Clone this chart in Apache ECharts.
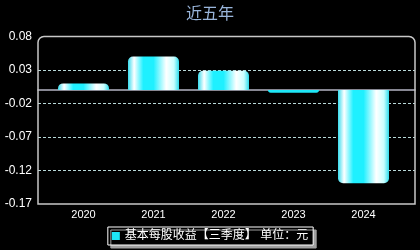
<!DOCTYPE html>
<html>
<head>
<meta charset="utf-8">
<script src="https://cdn.jsdelivr.net/npm/echarts@6/dist/echarts.min.js"></script>
<style>
  html, body { margin: 0; padding: 0; background: #000; }
  #chart { width: 420px; height: 250px; }
</style>
</head>
<body>
<div id="chart"></div>
<script>
// Basic EPS (Q3 cumulative), last five years
const years = ['2020', '2021', '2022', '2023', '2024'];
const eps = [0.01, 0.05, 0.029, -0.004, -0.139];
const yMin = -0.17;
const yMax = 0.08;
const yStep = 0.05;
const titleText = '近五年';
const seriesName = '基本每股收益【三季度】 单位：元';

const FONT = '"Liberation Sans", "Noto Sans CJK SC", sans-serif';

// horizontal cylinder-like shading across each bar
const barGradient = new echarts.graphic.LinearGradient(0, 0, 1, 0, [
  { offset: 0, color: '#38dcee' },
  { offset: 0.12, color: '#ffffff' },
  { offset: 0.3, color: '#1ff0ff' },
  { offset: 0.5, color: '#1ff0ff' },
  { offset: 0.75, color: '#ffffff' },
  { offset: 0.9, color: '#c8ffff' },
  { offset: 1, color: '#30dcec' }
]);

const barData = eps.map(v => ({
  value: v,
  itemStyle: {
    borderRadius: v < 0 ? [0, 0, 5, 5] : [5, 5, 0, 0],
    color: Math.abs(v) < 0.006 ? '#1ee6f6' : barGradient
  }
}));

const chart = echarts.init(document.getElementById('chart'), null, { renderer: 'canvas' });

const gridTop = 36.5;
const gridBottom = 46;

chart.setOption({
  backgroundColor: '#000',
  animation: false,
  title: {
    text: titleText,
    left: 'center',
    top: 2,
    textStyle: { color: '#9ab6dc', fontSize: 16, fontWeight: 'normal', fontFamily: FONT }
  },
  legend: {
    data: [seriesName],
    left: 'center',
    top: 227,
    icon: 'rect',
    itemWidth: 8,
    itemHeight: 8,
    padding: [3, 5, 3, 4],
    backgroundColor: '#000',
    borderColor: '#ffffff',
    borderWidth: 1,
    shadowColor: '#a0a0a0',
    shadowOffsetX: 3,
    shadowOffsetY: 3,
    shadowBlur: 0,
    textStyle: { color: '#ffffff', fontSize: 12, fontFamily: FONT }
  },
  grid: [
    // full-width grid: value labels, grid lines and zero line
    { left: 38, right: 5, top: gridTop, bottom: gridBottom },
    // inner grid carrying the bars and year labels
    { left: 48.5, right: 21.5, top: gridTop, bottom: gridBottom }
  ],
  xAxis: [
    {
      gridIndex: 0,
      type: 'category',
      data: years,
      axisLabel: { show: false },
      axisTick: { show: false },
      axisLine: { show: true, onZero: true, lineStyle: { color: '#b4b4c4', width: 1.5 } },
      splitLine: { show: false }
    },
    {
      gridIndex: 1,
      type: 'category',
      data: years,
      position: 'bottom',
      axisLine: { show: false, onZero: false },
      axisTick: { show: false },
      axisLabel: { color: '#ffffff', fontSize: 11, fontFamily: FONT, margin: 5 },
      splitLine: { show: false }
    }
  ],
  yAxis: [
    {
      gridIndex: 0,
      type: 'value',
      min: yMin,
      max: yMax,
      interval: yStep,
      axisLine: { show: false },
      axisTick: { show: false },
      axisLabel: {
        color: '#ffffff',
        fontSize: 12,
        fontFamily: FONT,
        margin: 6,
        formatter: v => v.toFixed(2)
      },
      splitLine: {
        show: true,
        showMinLine: false,
        showMaxLine: false,
        lineStyle: { color: '#b8d8d8', type: [3, 2], width: 1 }
      }
    },
    {
      gridIndex: 1,
      type: 'value',
      min: yMin,
      max: yMax,
      interval: yStep,
      show: false
    }
  ],
  graphic: [
    {
      type: 'rect',
      z: 100,
      silent: true,
      shape: { x: 38, y: gridTop, width: 377, height: 250 - gridBottom - gridTop, r: [6, 6, 0, 0] },
      style: { fill: 'none', stroke: '#c8c8c8', lineWidth: 1.5 }
    }
  ],
  series: [
    {
      name: seriesName,
      type: 'bar',
      xAxisIndex: 1,
      yAxisIndex: 1,
      barWidth: 51,
      data: barData,
      itemStyle: { color: '#1ee6f6' }
    }
  ]
});
</script>
</body>
</html>
